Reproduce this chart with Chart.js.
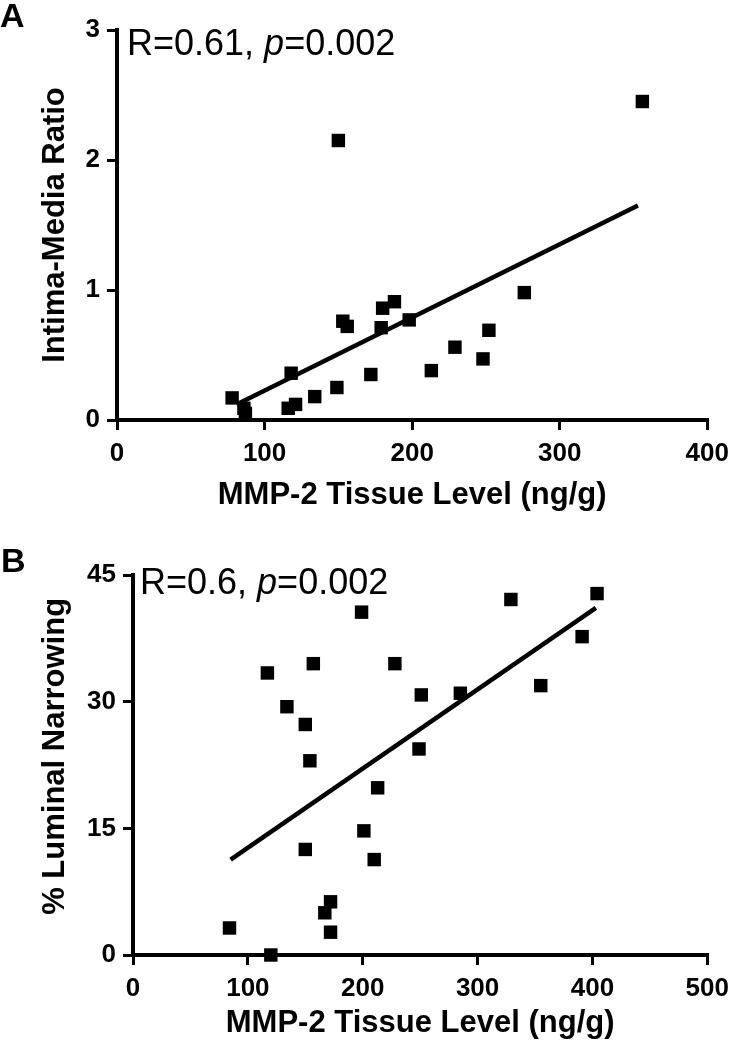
<!DOCTYPE html>
<html>
<head>
<meta charset="utf-8">
<script src="https://cdn.jsdelivr.net/npm/chart.js@4/dist/chart.umd.min.js"></script>
<style>
  body { margin: 0; background: #fff; }
  #wrap { position: relative; width: 737px; height: 1050px; }
  canvas { position: absolute; left: 0; }
  .lbl { position: absolute; font-family: 'Liberation Sans', Arial, sans-serif; color: #000; white-space: nowrap; line-height: 1; }
</style>
</head>
<body>
<div id="wrap">
  <canvas id="chartA" width="737" height="530" style="top:0"></canvas>
  <canvas id="chartB" width="737" height="520" style="top:530px"></canvas>
  <div class="lbl" style="left:0;top:-2px;font-size:34px;font-weight:bold">A</div>
  <div class="lbl" style="left:1px;top:543px;font-size:34px;font-weight:bold">B</div>
  <div class="lbl" style="left:127px;top:25px;font-size:36px">R=0.61, <i>p</i>=0.002</div>
  <div class="lbl" style="left:140px;top:564px;font-size:36px">R=0.6, <i>p</i>=0.002</div>
</div>
<script>
// panel A: intima-media ratio vs MMP-2
var mmpA = [78, 86, 87, 116, 118, 121, 134, 149, 150, 153, 156, 172, 179, 180, 188, 198, 213, 229, 248, 252, 276, 356];
var ratioA = [0.17, 0.09, 0.05, 0.09, 0.36, 0.12, 0.18, 0.25, 2.15, 0.76, 0.72, 0.35, 0.71, 0.86, 0.91, 0.77, 0.38, 0.56, 0.47, 0.69, 0.98, 2.45];
var fitA = [[81, 0.12], [353, 1.65]];
var xTicksA = [0, 100, 200, 300, 400];
var yTicksA = [0, 1, 2, 3];

// panel B: % luminal narrowing vs MMP-2
var mmpB = [84, 120, 117, 134, 150, 154, 157, 150, 167, 172, 172, 199, 201, 210, 213, 228, 249, 251, 285, 329, 355, 391, 404];
var narrowB = [3.2, 0, 33.4, 29.4, 27.3, 23.0, 34.5, 12.5, 5.0, 6.3, 2.7, 40.6, 14.7, 11.3, 19.8, 34.5, 24.4, 30.8, 31.0, 42.1, 31.9, 37.7, 42.8];
var fitB = [[85, 11.3], [403, 41.1]];
var xTicksB = [0, 100, 200, 300, 400, 500];
var yTicksB = [0, 15, 30, 45];

var FONT = "'Liberation Sans', Arial, sans-serif";

function pts(xs, ys) {
    var out = [];
    for (var i = 0; i < xs.length; i++) out.push({x: xs[i], y: ys[i]});
    return out;
}

function axis(ticks, title, opts) {
    return {
        type: 'linear',
        min: ticks[0],
        max: ticks[ticks.length - 1],
        afterBuildTicks: function (s) { s.ticks = ticks.map(function (v) { return {value: v}; }); },
        afterFit: opts.fit,
        border: {display: true, color: '#000', width: 4},
        grid: {display: true, drawOnChartArea: false, drawTicks: true, tickLength: 10, lineWidth: 3, color: '#000'},
        ticks: {color: '#000', padding: opts.tickPad, font: {family: FONT, size: 26, weight: 'bold'}, maxRotation: 0},
        title: {display: true, text: title, color: '#000', padding: opts.titlePad, font: {family: FONT, size: 31, weight: 'bold'}}
    };
}

function makeChart(id, xs, ys, fit, xTicks, yTicks, yTitle, cfg) {
    return new Chart(id, {
        type: 'scatter',
        data: {
            datasets: [{
                data: pts(xs, ys),
                pointStyle: 'rect',
                pointRadius: 9.5,
                pointBorderWidth: 0,
                backgroundColor: '#000',
                borderColor: '#000',
                clip: false
            }, {
                type: 'line',
                data: fit.map(function (p) { return {x: p[0], y: p[1]}; }),
                borderColor: '#000',
                borderWidth: 4.5,
                pointRadius: 0,
                fill: false,
                clip: false
            }]
        },
        options: {
            responsive: false,
            animation: false,
            layout: {padding: cfg.padding},
            plugins: {legend: {display: false}, tooltip: {enabled: false}},
            scales: {
                x: axis(xTicks, 'MMP-2 Tissue Level (ng/g)', {
                    fit: function (s) { s.height = cfg.xHeight; },
                    tickPad: 8,
                    titlePad: {top: 0, bottom: cfg.xTitlePad}
                }),
                y: axis(yTicks, yTitle, {
                    fit: function (s) { s.width = cfg.yWidth; },
                    tickPad: 7,
                    titlePad: {top: 37, bottom: 0}
                })
            }
        }
    });
}

makeChart('chartA', mmpA, ratioA, fitA, xTicksA, yTicksA, 'Intima-Media Ratio',
    {padding: {top: 30, right: 24, left: 0, bottom: 0}, xHeight: 110, yWidth: 117, xTitlePad: 16});
makeChart('chartB', mmpB, narrowB, fitB, xTicksB, yTicksB, '\u00a0\u00a0% Luminal Narrowing',
    {padding: {top: 45, right: 22, left: 0, bottom: 0}, xHeight: 95, yWidth: 133, xTitlePad: 8});
</script>
</body>
</html>
